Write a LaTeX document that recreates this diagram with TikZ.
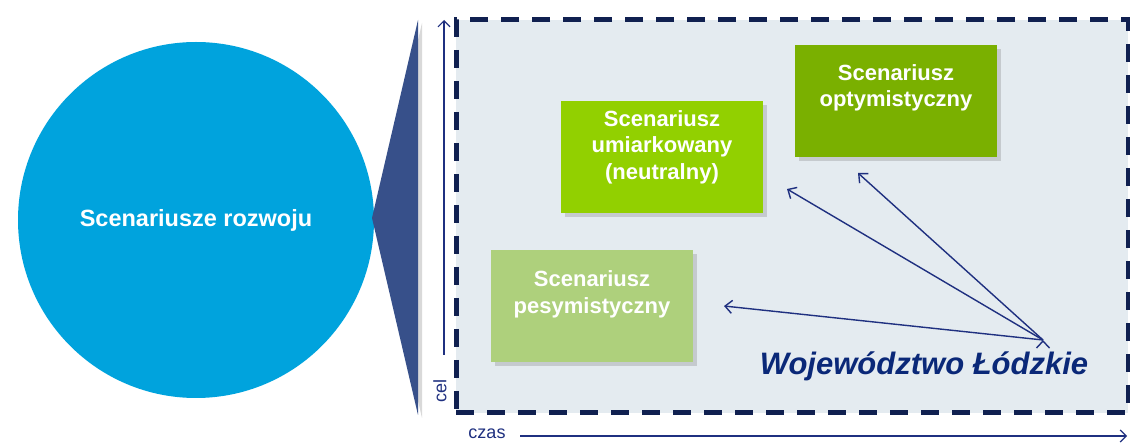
\documentclass[tikz,border=0pt]{standalone}
\usepackage{fontspec}
\setmainfont{Liberation Sans}
\usepackage{xcolor}
\usepackage{tikz}
\usetikzlibrary{positioning}
\usetikzlibrary{arrows.meta,shadows}
\definecolor{circblue}{RGB}{0,163,221}
\definecolor{triblue}{RGB}{55,80,138}
\definecolor{dashnavy}{RGB}{16,32,80}
\definecolor{panelfill}{RGB}{228,235,240}
\definecolor{optgreen}{RGB}{122,176,0}
\definecolor{umgreen}{RGB}{146,208,0}
\definecolor{pesgreen}{RGB}{174,208,124}
\definecolor{arrowblue}{RGB}{31,48,128}
\definecolor{wojblue}{RGB}{10,40,120}
\tikzset{edge/.style = {-{Straight Barb[length=7pt,width=13pt]}, draw=arrowblue, line width=1.4pt}}

\begin{document}
\begin{tikzpicture}[x=1pt,y=-1pt,
    scen box/.style={rectangle,minimum width=202pt,minimum height=112pt,inner sep=0pt,
      drop shadow={opacity=0.3,shadow xshift=4pt,shadow yshift=-4pt}},
    scen text/.style={text=white,align=center,font=\bfseries\fontsize{22}{26.5}\selectfont},
    axis/.style={-{Straight Barb[length=6pt,width=12pt]},draw=arrowblue,line width=1.2pt},
    axis label/.style={text=arrowblue,font=\fontsize{18}{20}\selectfont}]
                \useasboundingbox (0,0) rectangle (1130,443);

                % lewa strona
                \node[circle,fill=circblue,minimum size=356pt,inner sep=0pt,text=white,
                      font=\bfseries\fontsize{23.5}{26}\selectfont] (rozwoj) at (196,220) {Scenariusze rozwoju};
                \coordinate (tip) at (372,218);
                \coordinate (trtop) at (418,20);
                \coordinate (trbot) at (418,415);
                \fill[triblue,drop shadow={opacity=0.3,shadow xshift=4pt,shadow yshift=-3pt}]
                    (tip) -- (trtop) -- (trbot) -- cycle;

                % panel
                \node[rectangle,fill=panelfill,draw=dashnavy,line width=5pt,dash pattern=on 18pt off 13pt,
                      minimum width=672pt,minimum height=393pt,inner sep=0pt] (panel) at (792,216.5) {};

                % osie
                \coordinate (celstart) at (444,355);
                \coordinate (celend) at (444,20);
                \coordinate (czasstart) at (520,436);
                \coordinate (czasend) at (1127,436);
                \draw[axis] (celstart) -- (celend);
                \draw[axis] (czasstart) -- (czasend);
                \node[axis label,rotate=90] (cel) at (440,391) {cel};
                \node[axis label] (czas) at (487,434) {czas};

                % scenariusze
                \node[scen box,fill=optgreen,label={[scen text,yshift=13pt]center:{Scenariusz\\optymistyczny}}] (opt) at (896,101) {};
                \node[scen box,fill=umgreen,label={[scen text,yshift=10pt]center:{Scenariusz\\umiarkowany\\(neutralny)}}] (umiar) at (662,157) {};
                \node[scen box,fill=pesgreen,label={[scen text,yshift=12pt]center:{Scenariusz\\pesymistyczny}}] (pesy) at (592,306.5) {};

                \node[text=wojblue,font=\bfseries\itshape\fontsize{31}{33}\selectfont,anchor=base] (woj) at (924,375) {Województwo Łódzkie};

                \coordinate (wl) at (1043,340);
                \coordinate (toopt) at (858,173);
                \coordinate (toumiar) at (787,189);
                \coordinate (topesy) at (724,306);
                \path[edge]
                    (wl) edge (toopt)
                    (wl) edge (toumiar)
                    (wl) edge (topesy);
            \end{tikzpicture}
\end{document}
